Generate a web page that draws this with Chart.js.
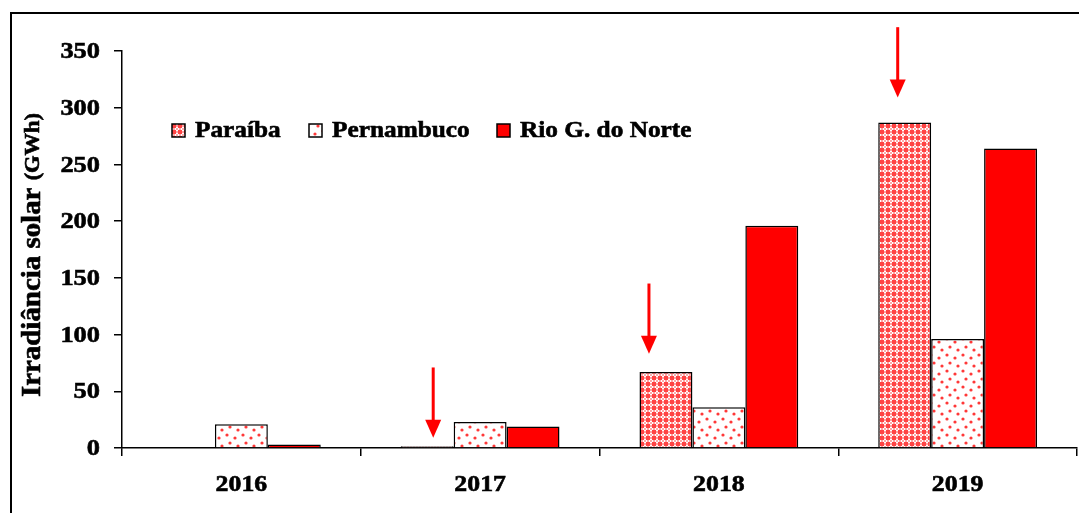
<!DOCTYPE html>
<html>
<head>
<meta charset="utf-8">
<script src="https://cdn.jsdelivr.net/npm/chart.js@4/dist/chart.umd.min.js"></script>
<style>
html,body{margin:0;padding:0;background:#fff;}
#wrap{width:1079px;height:513px;position:relative;}
</style>
</head>
<body>
<div id="wrap"><canvas id="c" width="1079" height="513"></canvas></div>
<script>
// ---- data ----
const categories = ['2016', '2017', '2018', '2019'];
const seriesNames = ['Paraíba', 'Pernambuco', 'Rio G. do Norte'];
const paraiba = [0, 1.5, 67, 287];
const pernambuco = [21, 23, 36, 96];
const rioGNorte = [3, 19, 196, 264];
const yTicks = [0, 50, 100, 150, 200, 250, 300, 350];
const yTitle = 'Irradiância solar ';
const yUnit = '(GWh)';
// arrows (annotation): category, start value, tip value
const arrowCats = ['2017', '2018', '2019'];
const arrowFrom = [71, 145, 371];
const arrowTo = [9, 83, 309];
const arrowDx = [6, -17, -7];

const FONT = '"Liberation Serif", "Times New Roman", serif';

function makePattern(kind) {
  const c = document.createElement('canvas');
  const ctx = c.getContext('2d');
  if (kind === 'lattice') {
    c.width = 6; c.height = 6;
    ctx.fillStyle = '#ff4444';
    ctx.fillRect(0, 0, 6, 6);
    ctx.fillStyle = '#ffffff';
    ctx.fillRect(2, 0.5, 2, 5);
    ctx.fillRect(0.5, 2, 5, 2);
    ctx.fillStyle = 'rgba(255,170,170,1)';
    ctx.fillRect(2, 2, 2, 2);
  } else {
    c.width = 16; c.height = 16;
    ctx.fillStyle = '#ffffff';
    ctx.fillRect(0, 0, 16, 16);
    ctx.fillStyle = '#ff3838';
    const dots = [[3, 3], [11, 6], [6, 11], [14, 14]];
    dots.forEach(([x, y]) => { ctx.beginPath(); ctx.arc(x, y, 1.6, 0, Math.PI * 2); ctx.fill(); });
  }
  return ctx.createPattern(c, 'repeat');
}
const patLattice = makePattern('lattice');
const patDots = makePattern('dots');
const fills = [patLattice, patDots, '#ff0000'];

function stretchedText(ctx, text, x, y, align, sx) {
  ctx.save();
  ctx.translate(x, y);
  ctx.scale(sx, 1);
  ctx.textAlign = align;
  ctx.lineWidth = 0.6;
  ctx.strokeStyle = ctx.fillStyle;
  ctx.fillText(text, 0, 0);
  ctx.strokeText(text, 0, 0);
  ctx.restore();
}

const decor = {
  id: 'decor',
  afterDraw(chart) {
    const ctx = chart.ctx;
    const x = chart.scales.x, y = chart.scales.y;
    ctx.save();
    // frame
    ctx.strokeStyle = '#000';
    ctx.lineWidth = 2;
    ctx.beginPath();
    ctx.moveTo(11, 520); ctx.lineTo(11, 13); ctx.lineTo(1090, 13);
    ctx.stroke();
    ctx.fillStyle = '#000';
    ctx.textBaseline = 'middle';
    // y tick labels
    ctx.font = 'bold 24px ' + FONT;
    yTicks.forEach(v => stretchedText(ctx, String(v), 100, y.getPixelForValue(v) + 1, 'right', 1.1));
    // x tick labels
    ctx.font = 'bold 23px ' + FONT;
    categories.forEach((c, i) => stretchedText(ctx, c, x.getPixelForValue(i), 485, 'center', 1.12));
    // y title
    ctx.save();
    ctx.translate(33, 255);
    ctx.rotate(-Math.PI / 2);
    ctx.font = 'bold 27px ' + FONT;
    const w1 = ctx.measureText(yTitle).width * 1.07;
    ctx.font = 'bold 21px ' + FONT;
    const w2 = ctx.measureText(yUnit).width * 1.07;
    const start = -(w1 + w2) / 2;
    ctx.font = 'bold 27px ' + FONT;
    stretchedText(ctx, yTitle, start, 0, 'left', 1.07);
    ctx.font = 'bold 21px ' + FONT;
    stretchedText(ctx, yUnit, start + w1, 1, 'left', 1.07);
    ctx.restore();
    // legend
    const legX = [172, 309, 497];
    const legY = 130;
    ctx.font = 'bold 23px ' + FONT;
    seriesNames.forEach((n, i) => {
      ctx.fillStyle = fills[i];
      ctx.fillRect(legX[i], legY - 6, 13, 13);
      ctx.lineWidth = 1.5;
      ctx.strokeStyle = '#000';
      ctx.strokeRect(legX[i], legY - 6, 13, 13);
      ctx.fillStyle = '#000';
      stretchedText(ctx, n, legX[i] + 23, legY + 1, 'left', 1.1);
    });
    // arrows
    const meta = chart.getDatasetMeta(0);
    ctx.fillStyle = '#ff0000';
    ctx.strokeStyle = '#ff0000';
    arrowCats.forEach((cat, i) => {
      const idx = categories.indexOf(cat);
      const ax = meta.data[idx].x + arrowDx[i];
      const y0 = y.getPixelForValue(arrowFrom[i]);
      const y1 = y.getPixelForValue(arrowTo[i]);
      ctx.lineWidth = 3;
      ctx.beginPath();
      ctx.moveTo(ax, y0); ctx.lineTo(ax, y1 - 16);
      ctx.stroke();
      ctx.beginPath();
      ctx.moveTo(ax - 8, y1 - 18);
      ctx.lineTo(ax + 8, y1 - 18);
      ctx.lineTo(ax, y1);
      ctx.closePath();
      ctx.fill();
    });
    ctx.restore();
  }
};

new Chart(document.getElementById('c'), {
  type: 'bar',
  data: {
    labels: categories,
    datasets: [
      { label: seriesNames[0], data: paraiba, backgroundColor: fills[0] },
      { label: seriesNames[1], data: pernambuco, backgroundColor: fills[1] },
      { label: seriesNames[2], data: rioGNorte, backgroundColor: fills[2] }
    ].map(d => Object.assign(d, { borderColor: '#000', borderWidth: 1.5, categoryPercentage: 0.665, barPercentage: 1 }))
  },
  options: {
    responsive: false,
    animation: false,
    layout: { padding: { left: 0, top: 51, right: 2, bottom: 0 } },
    plugins: { legend: { display: false }, tooltip: { enabled: false } },
    scales: {
      x: {
        grid: { drawOnChartArea: false, drawTicks: true, tickLength: 8, color: '#000', lineWidth: 1.5, offset: true },
        border: { display: true, color: '#000', width: 1.5 },
        ticks: { display: false },
        afterFit(s) { s.height = 65; }
      },
      y: {
        min: 0, max: 350,
        afterBuildTicks(s) { s.ticks = yTicks.map(v => ({ value: v })); },
        grid: { drawOnChartArea: false, drawTicks: true, tickLength: 8, color: '#000', lineWidth: 1.5 },
        border: { display: true, color: '#000', width: 1.5 },
        ticks: { display: false },
        afterFit(s) { s.width = 122; }
      }
    }
  },
  plugins: [decor]
});
</script>
</body>
</html>
